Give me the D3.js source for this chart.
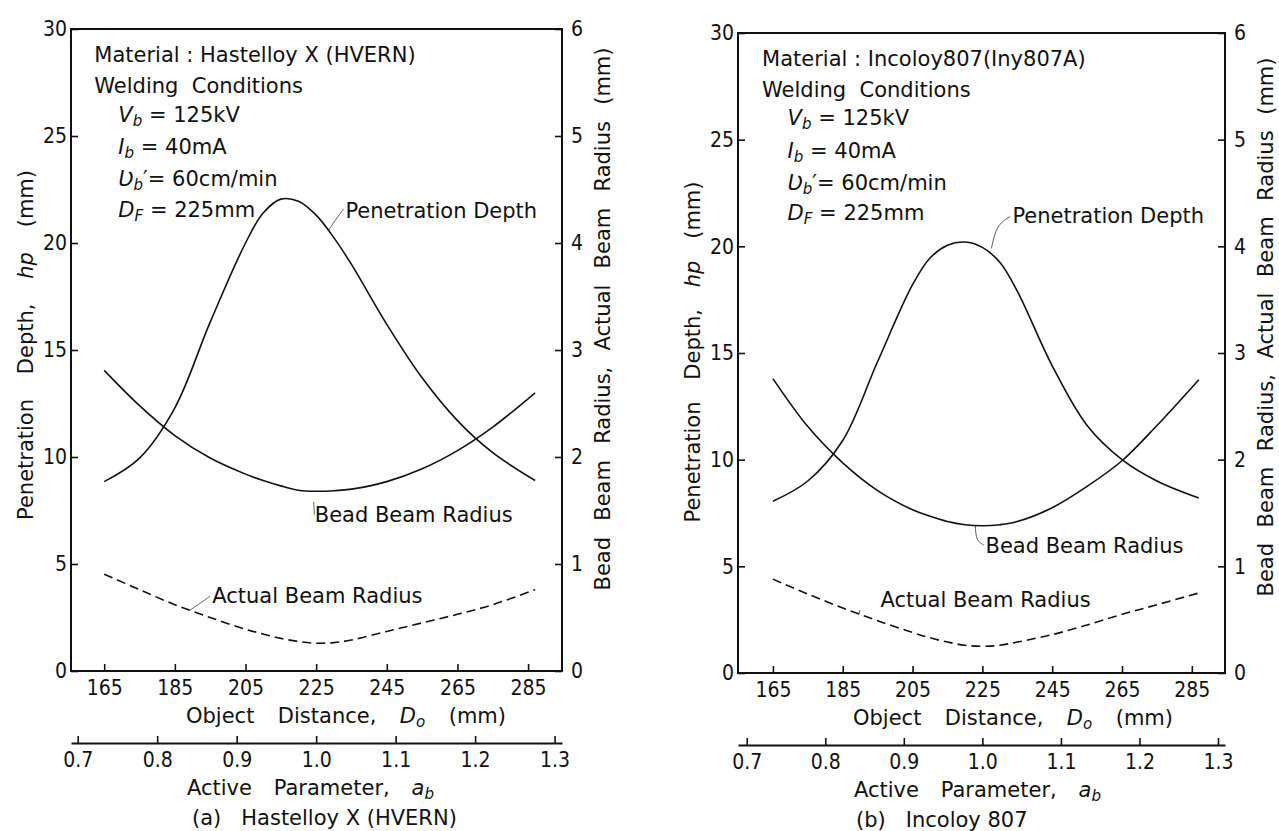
<!DOCTYPE html>
<html>
<head>
<meta charset="utf-8">
<script src="https://cdn.jsdelivr.net/npm/d3@7"></script>
<style>
  body { margin: 0; background: #fff; }
  svg text { font-family: "DejaVu Sans", sans-serif; fill: #111; }
  svg .tick text { font-family: "DejaVu Sans Condensed", "DejaVu Sans", sans-serif; }
</style>
</head>
<body>
<svg id="chart" width="1279" height="831"></svg>
<script>
// object distance Do (mm) where the curves were read
const objectDistance = [165, 175, 185, 195, 205, 210, 215, 220, 225, 230, 235, 245, 255, 265, 275, 287];

// (a) Hastelloy X
const hvPenetration = [8.85, 9.95, 12.3, 16.3, 20.0, 21.4, 22.05, 21.95, 21.3, 20.25, 19.0, 16.2, 13.7, 11.7, 10.2, 8.9];
const hvBeadRadius = [2.81, 2.48, 2.20, 1.99, 1.84, 1.78, 1.73, 1.69, 1.68, 1.685, 1.70, 1.77, 1.89, 2.06, 2.28, 2.60];
const hvActualRadius = [0.905, 0.76, 0.62, 0.50, 0.39, 0.345, 0.305, 0.275, 0.26, 0.265, 0.29, 0.37, 0.45, 0.53, 0.62, 0.76];

// (b) Incoloy 807
const inPenetration = [8.05, 9.0, 10.9, 14.6, 18.2, 19.45, 20.05, 20.2, 19.95, 19.25, 17.9, 14.4, 11.6, 10.0, 9.0, 8.2];
const inBeadRadius = [2.76, 2.31, 1.97, 1.71, 1.53, 1.47, 1.42, 1.39, 1.38, 1.39, 1.42, 1.55, 1.75, 1.99, 2.32, 2.75];
const inActualRadius = [0.88, 0.74, 0.61, 0.49, 0.38, 0.33, 0.29, 0.26, 0.25, 0.26, 0.29, 0.36, 0.45, 0.55, 0.64, 0.75];

const distanceTicks = [165, 185, 205, 225, 245, 265, 285];
const activeTicks = [0.7, 0.8, 0.9, 1.0, 1.1, 1.2, 1.3];
const depthTicks = [0, 5, 10, 15, 20, 25, 30];
const radiusTicks = [0, 1, 2, 3, 4, 5, 6];
const focalDistance = 225; // a_b = Do / DF

const svg = d3.select("#chart");

// text with italic / subscript pieces: [text, "i" | "s" | ""]
function rich(text, parts) {
  let shifted = false;
  parts.forEach(([s, k]) => {
    const t = text.append("tspan").text(s);
    if (k === "i" || k === "s") t.attr("font-style", "italic");
    if (k === "s") {
      t.attr("font-size", "0.72em");
      if (!shifted) { t.attr("dy", 4); shifted = true; }
    } else if (shifted) {
      t.attr("dy", -4); shifted = false;
    }
  });
  return text;
}

// widen the gaps between words so the label spans a given length
function spread(text, target) {
  const node = text.node();
  const len = node.getComputedTextLength();
  const gaps = (node.textContent.match(/ /g) || []).length;
  if (gaps && target > len) text.attr("word-spacing", (target - len) / gaps);
}

function drawPanel(p) {
  const g = svg.append("g");
  const x = d3.scaleLinear().domain(p.domain).range([p.left, p.right]);
  const yL = d3.scaleLinear().domain([0, 30]).range([p.bottom, p.top]);
  const yR = d3.scaleLinear().domain([0, 6]).range([p.bottom, p.top]);
  const xa = d3.scaleLinear().domain(p.domain.map(d => d / focalDistance)).range([p.left, p.right]);

  // curves
  const line = d3.line().x((d, i) => x(objectDistance[i])).curve(d3.curveCatmullRom.alpha(0.5));
  g.append("path").datum(p.penetration)
    .attr("d", line.y(d => yL(d)))
    .attr("fill", "none").attr("stroke", "#111").attr("stroke-width", 1.6);
  g.append("path").datum(p.bead)
    .attr("d", line.y(d => yR(d)))
    .attr("fill", "none").attr("stroke", "#111").attr("stroke-width", 1.6);
  g.append("path").datum(p.actual)
    .attr("d", line.y(d => yR(d)))
    .attr("fill", "none").attr("stroke", "#111").attr("stroke-width", 1.6)
    .attr("stroke-dasharray", "9,5");

  // frame
  g.append("rect")
    .attr("x", p.left).attr("y", p.top)
    .attr("width", p.right - p.left).attr("height", p.bottom - p.top)
    .attr("fill", "none").attr("stroke", "#111").attr("stroke-width", 2);

  const style = a => {
    a.select(".domain").remove();
    a.selectAll(".tick line").attr("stroke", "#111").attr("stroke-width", 1.6);
    a.selectAll(".tick text").attr("font-size", 21).attr("fill", "#111")
      .attr("font-family", null);
  };

  g.append("g").attr("transform", `translate(${p.left},0)`)
    .call(d3.axisLeft(yL).tickValues(depthTicks).tickFormat(d3.format("d")).tickSize(-7).tickPadding(4))
    .call(style);
  g.append("g").attr("transform", `translate(${p.right},0)`)
    .call(d3.axisRight(yR).tickValues(radiusTicks).tickFormat(d3.format("d")).tickSize(-7).tickPadding(9))
    .call(style);
  g.append("g").attr("transform", `translate(0,${p.bottom})`)
    .call(d3.axisBottom(x).tickValues(distanceTicks).tickSize(-7).tickPadding(9))
    .call(style);

  // active parameter axis
  const sec = g.append("g").attr("transform", `translate(0,${p.bottom + 72})`)
    .call(d3.axisBottom(xa).tickValues(activeTicks).tickFormat(d3.format(".1f"))
      .tickSize(-7).tickSizeOuter(0).tickPadding(9));
  sec.selectAll(".tick line").attr("stroke", "#111").attr("stroke-width", 1.6);
  sec.selectAll(".tick text").attr("font-size", 21).attr("fill", "#111").attr("font-family", null);
  sec.select(".domain").attr("stroke", "#111").attr("stroke-width", 2);

  // axis titles
  const t1 = rich(g.append("text").attr("x", p.left + 115).attr("y", p.bottom + 52)
      .attr("font-size", 21),
    [["Object Distance, ", ""], ["D", "i"], ["o", "s"], [" (mm)", ""]]);
  spread(t1, 320);
  const t2 = rich(g.append("text").attr("x", p.left + 116).attr("y", p.bottom + 124)
      .attr("font-size", 21),
    [["Active Parameter, ", ""], ["a", "i"], ["b", "s"]]);
  spread(t2, 247);
  g.append("text").attr("x", p.left + p.capDx).attr("y", p.bottom + 154)
    .attr("font-size", 21).attr("xml:space", "preserve").text(p.caption);

  const yl = rich(g.append("text")
      .attr("transform", `translate(${p.left - 38},${p.yTitleMid}) rotate(-90)`)
      .attr("text-anchor", "middle").attr("font-size", 21),
    [["Penetration Depth, ", ""], ["h", "i"], ["p", "i"], [" (mm)", ""]]);
  spread(yl, p.yTitleLen);
  const yr = g.append("text")
    .attr("transform", `translate(${p.right + 48},${p.rTitleMid}) rotate(-90)`)
    .attr("text-anchor", "middle").attr("font-size", 21)
    .text("Bead Beam Radius, Actual Beam Radius (mm)");
  spread(yr, p.rTitleLen);

  // welding conditions note
  const ax = x(p.noteX), ix = x(p.noteIndentX);
  const note = [
    [ax, [["Material : " + p.material, ""]]],
    [ax, [["Welding  Conditions", ""]]],
    [ix, [["V", "i"], ["b", "s"], [" = 125kV", ""]]],
    [ix, [["I", "i"], ["b", "s"], [" = 40mA", ""]]],
    [ix, [["Ʋ", "i"], ["b", "s"], ["′", ""], ["= 60cm/min", ""]]],
    [ix, [["D", "i"], ["F", "s"], [" = 225mm", ""]]]
  ];
  const noteRows = [28.83, 27.35, 26.03, 24.5, 23.0, 21.57];
  note.forEach(([nx, parts], i) => {
    rich(g.append("text").attr("x", nx).attr("y", yL(noteRows[i])).attr("dy", "0.36em")
      .attr("font-size", 21).attr("xml:space", "preserve"), parts);
  });

  // curve labels with leaders
  p.labels.forEach(l => {
    g.append("path")
      .attr("d", d3.line().curve(d3.curveBasis)(l.leader.map(([a, b]) => [x(a), yL(b)])))
      .attr("fill", "none").attr("stroke", "#333").attr("stroke-width", 0.8);
    g.append("text").attr("x", x(l.at[0])).attr("y", yL(l.at[1])).attr("dy", "0.36em")
      .attr("font-size", 21).text(l.text);
  });
}

drawPanel({
  left: 71, right: 562, top: 29, bottom: 671, domain: [155.6, 294.6],
  penetration: hvPenetration, bead: hvBeadRadius, actual: hvActualRadius,
  material: "Hastelloy X (HVERN)", caption: "(a)   Hastelloy X (HVERN)", capDx: 121,
  noteX: 162.2, noteIndentX: 169.0,
  yTitleMid: 345, yTitleLen: 350, rTitleMid: 319, rTitleLen: 543,
  labels: [
    { text: "Penetration Depth", at: [233.3, 21.5], leader: [[228.6, 20.6], [230.5, 21.1], [232.8, 21.6]] },
    { text: "Bead Beam Radius", at: [224.6, 7.3], leader: [[224.3, 7.9], [224.4, 7.6], [224.5, 7.3]] },
    { text: "Actual Beam Radius", at: [195.6, 3.55], leader: [[189.3, 2.85], [192.5, 3.2], [195.0, 3.5]] }
  ]
});

drawPanel({
  left: 738, right: 1225, top: 33, bottom: 673, domain: [155.0, 294.5],
  penetration: inPenetration, bead: inBeadRadius, actual: inActualRadius,
  material: "Incoloy807(Iny807A)", caption: "(b)   Incoloy 807", capDx: 118,
  noteX: 161.9, noteIndentX: 169.2,
  yTitleMid: 352, yTitleLen: 341, rTitleMid: 327, rTitleLen: 539,
  labels: [
    { text: "Penetration Depth", at: [233.6, 21.45], leader: [[227.6, 19.9], [229.0, 21.0], [233.0, 21.4]] },
    { text: "Bead Beam Radius", at: [225.9, 6.0], leader: [[223.0, 6.9], [223.2, 6.2], [225.4, 6.0]] },
    { text: "Actual Beam Radius", at: [195.8, 3.47], leader: [[189.6, 2.75], [190.0, 2.95]] }
  ]
});
</script>
</body>
</html>
